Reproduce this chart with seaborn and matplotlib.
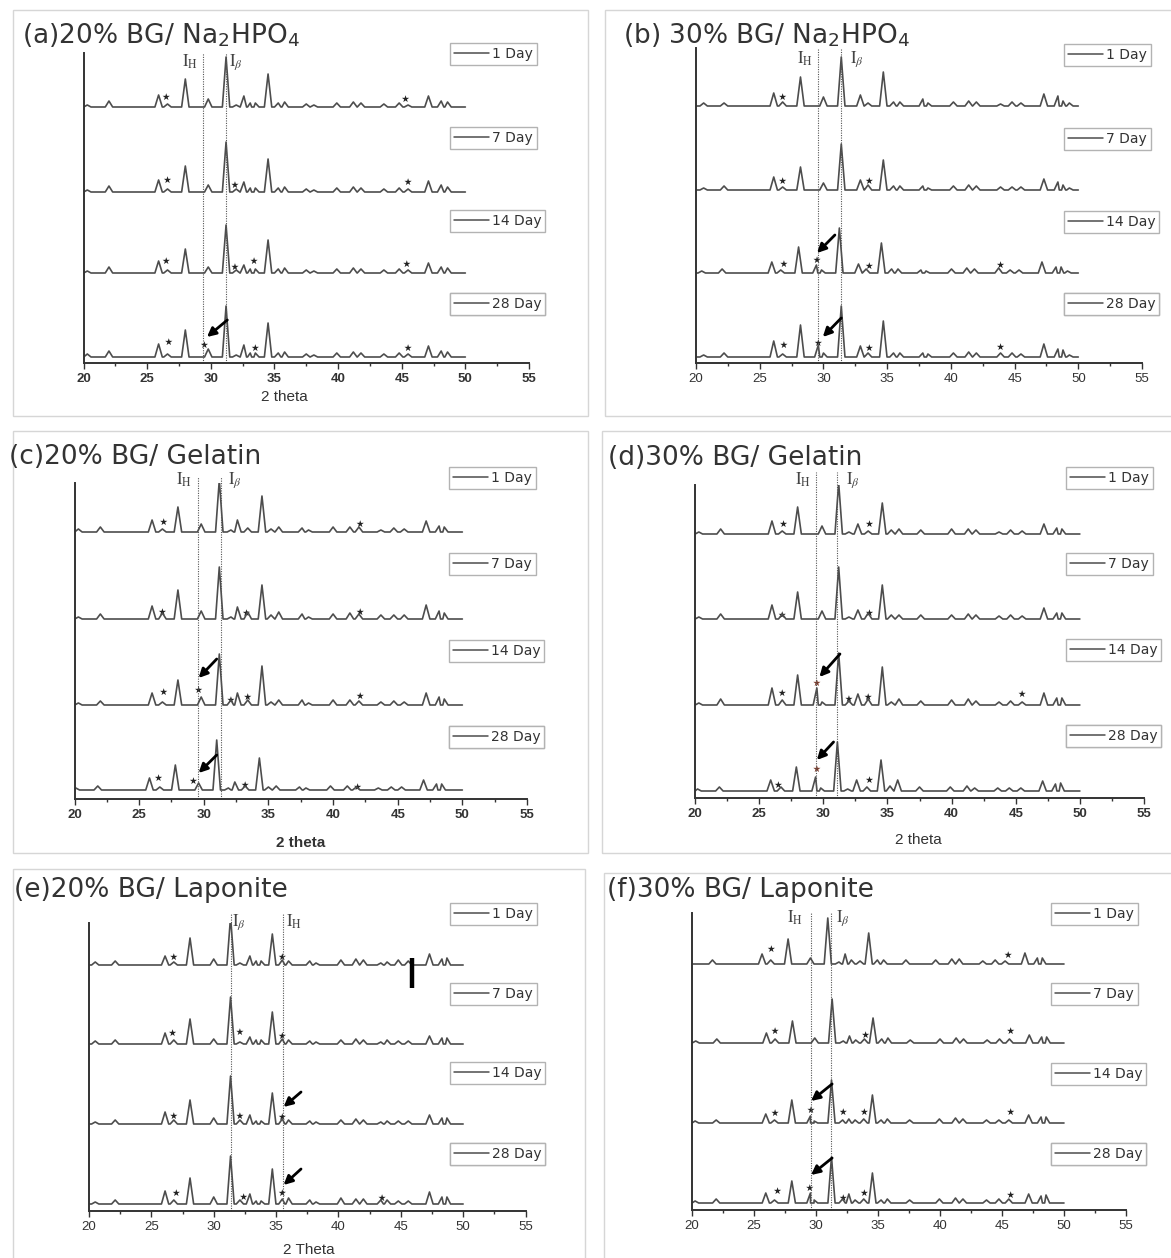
import matplotlib
matplotlib.use("Agg")
import matplotlib.pyplot as plt
import seaborn as sns
import pandas as pd
from matplotlib.lines import Line2D
from matplotlib.patches import Rectangle

DAYS = ["1 Day", "7 Day", "14 Day", "28 Day"]

# ---------------- (a) 20% BG / Na2HPO4 ----------------
A_POS = [20.3, 22.0, 25.9, 26.6, 28.0, 29.8, 31.2, 32.0, 32.6, 33.1, 33.5, 34.5, 35.3, 35.8,
         37.5, 38.1, 39.9, 41.2, 41.8, 43.6, 44.8, 45.5, 47.1, 48.1, 48.6]
A_1 = [2, 6, 12, 3, 28, 8, 50, 2, 11, 4, 4, 33, 4, 5, 3, 2, 4, 5, 4, 3, 4, 2, 11, 6, 5]
A_7 = [2, 6, 12, 3, 26, 7, 50, 3, 10, 4, 4, 33, 4, 5, 3, 2, 4, 5, 4, 3, 4, 3, 11, 7, 5]
A_14 = [2, 6, 12, 3, 24, 6, 48, 3, 8, 4, 4, 33, 4, 5, 3, 2, 4, 5, 4, 3, 4, 3, 10, 6, 5]
A_28 = [3, 6, 13, 3, 27, 8, 51, 2, 12, 4, 4, 34, 4, 5, 3, 2, 4, 5, 4, 3, 4, 3, 11, 6, 5]
A_SHIFT = [0, 0, 0, 0]
A_OFFSET = [250, 165, 84, 0]
A_REF = [29.4, 31.2]
A_REF_LABX = [28.4, 32.0]
A_REF_LAB = ["H", r"\beta"]
A_STAR_DAY = [0, 0, 1, 1, 1, 2, 2, 2, 2, 3, 3, 3, 3]
A_STAR_X = [26.5, 45.3, 26.6, 31.9, 45.5, 26.5, 31.9, 33.4, 45.4, 26.7, 29.5, 33.5, 45.5]
A_STAR_Y = [10, 8, 12, 7, 10, 12, 6, 12, 9, 15, 12, 9, 9]
A_ARR_DAY = [3]
A_ARR_X0 = [31.3]
A_ARR_Y0 = [37]
A_ARR_X1 = [29.7]
A_ARR_Y1 = [20]

# ---------------- (b) 30% BG / Na2HPO4 ----------------
B_POS = [20.6, 22.2, 26.1, 26.8, 28.2, 29.6, 30.0, 31.4, 32.9, 33.5, 34.7, 35.5, 36.0, 37.8,
         38.2, 40.2, 41.4, 42.0, 43.9, 44.8, 45.5, 47.3, 48.4, 48.8, 49.3]
B_1 = [3, 3, 13, 4, 29, 0, 9, 49, 11, 3, 34, 4, 4, 7, 3, 4, 5, 4, 2, 4, 3, 12, 10, 5, 3]
B_7 = [2, 4, 13, 3, 23, 0, 7, 46, 10, 5, 30, 4, 4, 4, 2, 4, 5, 4, 3, 3, 3, 11, 8, 5, 2]
B_14 = [2, 4, 11, 3, 26, 8, 3, 45, 9, 4, 30, 4, 4, 3, 2, 4, 5, 4, 5, 3, 3, 11, 6, 6, 2]
B_28 = [2, 4, 16, 3, 32, 12, 4, 51, 11, 4, 36, 4, 4, 4, 3, 4, 5, 4, 4, 4, 3, 13, 8, 7, 2]
B_SHIFT = [0, 0, -0.15, 0]
B_OFFSET = [251, 167, 84, 0]
B_REF = [29.6, 31.4]
B_REF_LABX = [28.55, 32.6]
B_REF_LAB = ["H", r"\beta"]
B_STAR_DAY = [0, 1, 1, 2, 2, 2, 2, 3, 3, 3, 3]
B_STAR_X = [26.8, 26.8, 33.6, 26.9, 29.5, 33.6, 43.9, 26.9, 29.6, 33.6, 43.9]
B_STAR_Y = [9, 9, 9, 9, 13, 7, 8, 12, 14, 9, 10]
B_ARR_DAY = [2, 3]
B_ARR_X0 = [30.9, 31.4]
B_ARR_Y0 = [38, 39]
B_ARR_X1 = [29.5, 29.95]
B_ARR_Y1 = [20, 20]

# ---------------- (c) 20% BG / Gelatin ----------------
C_POS = [20.3, 22.0, 26.0, 26.8, 28.0, 29.8, 31.2, 32.1, 32.6, 33.4, 34.5, 35.2, 35.8, 37.6,
         38.1, 40.0, 41.3, 42.0, 43.7, 44.7, 45.5, 47.2, 48.2, 48.6]
C_1 = [3, 5, 12, 3, 25, 8, 52, 2, 12, 4, 36, 3, 5, 4, 2, 5, 5, 5, 2, 4, 3, 11, 6, 5]
C_7 = [2, 5, 13, 6, 29, 8, 52, 2, 12, 7, 34, 4, 7, 5, 2, 5, 6, 5, 4, 4, 4, 14, 8, 6]
C_14 = [2, 4, 12, 3, 25, 8, 51, 5, 12, 5, 39, 3, 5, 5, 2, 5, 5, 4, 3, 4, 3, 12, 8, 6]
C_28 = [2, 4, 12, 3, 25, 7, 50, 2, 8, 4, 32, 3, 4, 3, 2, 4, 4, 3, 2, 3, 3, 10, 6, 6]
C_SHIFT = [0, 0, 0, -0.2]
C_OFFSET = [258, 171, 85, 0]
C_REF = [29.55, 31.3]
C_REF_LABX = [28.5, 32.4]
C_REF_LAB = ["H", r"\beta"]
C_STAR_DAY = [0, 0, 1, 1, 1, 2, 2, 2, 2, 2, 3, 3, 3, 3]
C_STAR_X = [26.9, 42.1, 26.8, 33.3, 42.1, 26.9, 29.6, 32.1, 33.4, 42.1, 26.5, 29.2, 33.2, 41.9]
C_STAR_Y = [10, 8, 7, 6, 7, 13, 15, 5, 8, 9, 12, 9, 5, 3]
C_ARR_DAY = [2, 3]
C_ARR_X0 = [31.0, 31.0]
C_ARR_Y0 = [46, 35]
C_ARR_X1 = [29.6, 29.6]
C_ARR_Y1 = [27, 17]

# ---------------- (d) 30% BG / Gelatin ----------------
D_POS = [20.3, 22.0, 26.0, 26.8, 28.0, 29.5, 29.9, 31.2, 32.0, 32.7, 33.5, 34.6, 35.3, 35.9,
         37.6, 40.0, 41.3, 41.9, 43.7, 44.6, 45.5, 47.2, 48.2, 48.6]
D_1 = [2, 5, 13, 3, 27, 0, 8, 51, 2, 10, 3, 31, 4, 5, 4, 5, 5, 4, 2, 4, 3, 10, 6, 5]
D_7 = [2, 5, 14, 5, 27, 0, 8, 52, 2, 9, 6, 34, 4, 4, 4, 4, 5, 4, 3, 4, 3, 11, 6, 6]
D_14 = [2, 6, 17, 5, 30, 17, 3, 52, 4, 11, 6, 38, 3, 6, 4, 5, 6, 4, 3, 4, 3, 12, 7, 7]
D_28 = [2, 4, 11, 4, 24, 14, 3, 49, 2, 11, 4, 31, 5, 11, 4, 4, 5, 3, 3, 3, 3, 10, 7, 8]
D_SHIFT = [0, 0, 0, -0.1]
D_OFFSET = [257, 172, 86, 0]
D_REF = [29.4, 31.1]
D_REF_LABX = [28.4, 32.3]
D_REF_LAB = ["H", r"\beta"]
D_STAR_DAY = [0, 0, 1, 1, 2, 2, 2, 2, 2, 3, 3, 3]
D_STAR_X = [26.9, 33.6, 26.8, 33.6, 26.8, 29.5, 32.0, 33.5, 45.5, 26.5, 29.5, 33.6]
D_STAR_Y = [10, 10, 4, 6, 12, 22, 6, 8, 11, 6, 22, 11]
D_STAR_TONE = [0, 0, 0, 0, 0, 1, 0, 0, 0, 0, 1, 0]
D_ARR_DAY = [2, 3]
D_ARR_X0 = [31.3, 30.8]
D_ARR_Y0 = [51, 49]
D_ARR_X1 = [29.7, 29.5]
D_ARR_Y1 = [28, 31]

# ---------------- (e) 20% BG / Laponite ----------------
E_POS = [20.5, 22.1, 26.1, 26.8, 28.1, 30.0, 31.35, 32.1, 32.9, 33.4, 33.8, 34.7, 35.5, 36.0,
         37.7, 38.2, 40.2, 41.4, 42.0, 43.4, 43.9, 44.8, 45.6, 47.3, 48.3, 48.7]
E_1 = [3, 4, 9, 3, 27, 6, 48, 2, 9, 4, 4, 31, 5, 4, 4, 2, 5, 6, 5, 2, 3, 5, 4, 11, 6, 7]
E_7 = [3, 4, 11, 4, 25, 5, 47, 2, 7, 4, 4, 32, 5, 4, 3, 2, 4, 5, 4, 2, 4, 3, 3, 8, 6, 6]
E_14 = [2, 4, 12, 4, 24, 6, 48, 4, 9, 3, 3, 31, 5, 4, 3, 2, 4, 5, 4, 2, 3, 3, 3, 9, 6, 6]
E_28 = [2, 4, 13, 4, 26, 7, 48, 4, 10, 3, 3, 35, 5, 6, 4, 2, 6, 5, 5, 4, 4, 3, 3, 12, 7, 7]
E_SHIFT = [0, 0, 0, 0]
E_OFFSET = [239, 160, 80, 0]
E_REF = [31.35, 35.55]
E_REF_LABX = [32.0, 36.4]
E_REF_LAB = [r"\beta", "H"]
E_STAR_DAY = [0, 0, 1, 1, 1, 2, 2, 2, 3, 3, 3, 3]
E_STAR_X = [26.8, 35.5, 26.7, 32.1, 35.5, 26.8, 32.1, 35.5, 27.0, 32.4, 35.5, 43.5]
E_STAR_Y = [8, 8, 11, 12, 8, 8, 8, 7, 11, 7, 11, 6]
E_ARR_DAY = [2, 3]
E_ARR_X0 = [37.0, 37.0]
E_ARR_Y0 = [32, 35]
E_ARR_X1 = [35.6, 35.6]
E_ARR_Y1 = [17, 19]
E_MARK_X = [45.9]
E_MARK_Y0 = [216]
E_MARK_Y1 = [246]

# ---------------- (f) 30% BG / Laponite ----------------
F_POS = [20.3, 22.0, 26.0, 26.7, 28.1, 29.6, 29.9, 31.3, 32.2, 32.7, 33.2, 33.9, 34.6, 35.3,
         35.8, 37.6, 40.0, 41.3, 41.9, 43.8, 44.8, 45.6, 47.2, 48.2, 48.6]
F_1 = [2, 4, 10, 4, 25, 0, 6, 46, 2, 10, 4, 3, 31, 4, 4, 4, 4, 5, 5, 3, 4, 3, 11, 6, 6]
F_7 = [2, 4, 10, 4, 22, 0, 5, 44, 2, 7, 3, 4, 25, 4, 5, 3, 4, 5, 4, 3, 4, 4, 8, 6, 6]
F_14 = [2, 3, 9, 3, 23, 7, 2, 43, 3, 4, 3, 4, 28, 3, 4, 3, 4, 5, 4, 3, 3, 3, 8, 6, 6]
F_28 = [2, 4, 10, 3, 22, 10, 3, 46, 4, 9, 3, 4, 30, 3, 4, 3, 4, 5, 4, 3, 4, 4, 9, 7, 8]
F_SHIFT = [-0.35, 0, -0.05, -0.05]
F_OFFSET = [239, 160, 80, 0]
F_REF = [29.6, 31.2]
F_REF_LABX = [28.3, 32.2]
F_REF_LAB = ["H", r"\beta"]
F_STAR_DAY = [0, 0, 1, 1, 1, 2, 2, 2, 2, 2, 3, 3, 3, 3, 3]
F_STAR_X = [26.4, 45.5, 26.7, 34.0, 45.7, 26.7, 29.6, 32.2, 33.9, 45.7, 26.9, 29.5, 32.2, 33.9, 45.7]
F_STAR_Y = [15, 9, 12, 8, 12, 10, 13, 11, 11, 11, 12, 15, 5, 10, 8]
F_ARR_DAY = [2, 3]
F_ARR_X0 = [31.3, 31.3]
F_ARR_Y0 = [39, 45]
F_ARR_X1 = [29.6, 29.6]
F_ARR_Y1 = [22, 28]

# ---------------- styling / layout ----------------
W_PX, H_PX = 1171, 1258
LINE_COLOR = "#4d4d4d"
HALF_BASE = 0.29

sns.set_style("white")
plt.rcParams["font.family"] = ["DejaVu Sans"]
plt.rcParams["mathtext.fontset"] = "stix"

fig = plt.figure(figsize=(W_PX / 100, H_PX / 100), dpi=100)


def fx(x):
    return x / W_PX


def fy(y):
    return 1 - y / H_PX


def build_df(pos, heights_list, shifts, offsets):
    rows = []
    for d, (hs, sh, off) in enumerate(zip(heights_list, shifts, offsets)):
        pts = [(20.0, 0.0)]
        for p, h in zip(pos, hs):
            if h <= 0:
                continue
            pts += [(p + sh - HALF_BASE, 0.0), (p + sh, float(h)), (p + sh + HALF_BASE, 0.0)]
        pts.append((50.0, 0.0))
        pts.sort(key=lambda t: t[0])
        for x, y in pts:
            rows.append({"theta": x, "intensity": y + off, "day": DAYS[d]})
    return pd.DataFrame(rows)


PANELS = [
    dict(rect=(83.5, 529, 53, 363), ylim=(-6, 304), pos=A_POS, h=[A_1, A_7, A_14, A_28],
         shift=A_SHIFT, off=A_OFFSET, ref=A_REF, reflx=A_REF_LABX, refl=A_REF_LAB, refy=0.971, reftop=1.0,
         sd=A_STAR_DAY, sx=A_STAR_X, sy=A_STAR_Y, st=None,
         ad=A_ARR_DAY, ax0=A_ARR_X0, ay0=A_ARR_Y0, ax1=A_ARR_X1, ay1=A_ARR_Y1,
         title="(a)20% BG/ Na$_\\mathregular{2}$HPO$_\\mathregular{4}$", tpos=(22, 35),
         leg=(450, [43, 127, 210, 293]), bold=True, xlabel=("2 theta", 284, 397, "normal")),
    dict(rect=(696, 1142, 48, 363), ylim=(-6, 309), pos=B_POS, h=[B_1, B_7, B_14, B_28],
         shift=B_SHIFT, off=B_OFFSET, ref=B_REF, reflx=B_REF_LABX, refl=B_REF_LAB, refy=0.965, reftop=1.0,
         sd=B_STAR_DAY, sx=B_STAR_X, sy=B_STAR_Y, st=None,
         ad=B_ARR_DAY, ax0=B_ARR_X0, ay0=B_ARR_Y0, ax1=B_ARR_X1, ay1=B_ARR_Y1,
         title="(b) 30% BG/ Na$_\\mathregular{2}$HPO$_\\mathregular{4}$", tpos=(623, 35),
         leg=(1064, [44, 128, 211, 293]), bold=False, xlabel=None),
    dict(rect=(74.5, 527, 483, 799), ylim=(-9, 307), pos=C_POS, h=[C_1, C_7, C_14, C_28],
         shift=C_SHIFT, off=C_OFFSET, ref=C_REF, reflx=C_REF_LABX, refl=C_REF_LAB, refy=1.01, reftop=1.02,
         sd=C_STAR_DAY, sx=C_STAR_X, sy=C_STAR_Y, st=None,
         ad=C_ARR_DAY, ax0=C_ARR_X0, ay0=C_ARR_Y0, ax1=C_ARR_X1, ay1=C_ARR_Y1,
         title="(c)20% BG/ Gelatin", tpos=(9, 457),
         leg=(449, [467, 553, 640, 726]), bold=True, xlabel=("2 theta", 301, 843, "bold")),
    dict(rect=(695, 1144, 485, 798), ylim=(-7, 306), pos=D_POS, h=[D_1, D_7, D_14, D_28],
         shift=D_SHIFT, off=D_OFFSET, ref=D_REF, reflx=D_REF_LABX, refl=D_REF_LAB, refy=1.016, reftop=1.04,
         sd=D_STAR_DAY, sx=D_STAR_X, sy=D_STAR_Y, st=D_STAR_TONE,
         ad=D_ARR_DAY, ax0=D_ARR_X0, ay0=D_ARR_Y0, ax1=D_ARR_X1, ay1=D_ARR_Y1,
         title="(d)30% BG/ Gelatin", tpos=(608, 458),
         leg=(1066, [467, 553, 639, 725]), bold=True, xlabel=("2 theta", 918, 840, "normal")),
    dict(rect=(89, 525.5, 923, 1211), ylim=(-7, 281), pos=E_POS, h=[E_1, E_7, E_14, E_28],
         shift=E_SHIFT, off=E_OFFSET, ref=E_REF, reflx=E_REF_LABX, refl=E_REF_LAB, refy=1.003, reftop=1.03,
         sd=E_STAR_DAY, sx=E_STAR_X, sy=E_STAR_Y, st=None,
         ad=E_ARR_DAY, ax0=E_ARR_X0, ay0=E_ARR_Y0, ax1=E_ARR_X1, ay1=E_ARR_Y1,
         title="(e)20% BG/ Laponite", tpos=(14, 890),
         leg=(450, [903, 983, 1062, 1143]), bold=False, xlabel=("2 Theta", 309, 1250, "normal")),
    dict(rect=(692, 1126, 913, 1210), ylim=(-7, 290), pos=F_POS, h=[F_1, F_7, F_14, F_28],
         shift=F_SHIFT, off=F_OFFSET, ref=F_REF, reflx=F_REF_LABX, refl=F_REF_LAB, refy=0.983, reftop=1.0,
         sd=F_STAR_DAY, sx=F_STAR_X, sy=F_STAR_Y, st=None,
         ad=F_ARR_DAY, ax0=F_ARR_X0, ay0=F_ARR_Y0, ax1=F_ARR_X1, ay1=F_ARR_Y1,
         title="(f)30% BG/ Laponite", tpos=(607, 890),
         leg=(1051, [903, 983, 1063, 1143]), bold=False, xlabel=None),
]

# light panel frames
FRAMES = [(13, 10, 588, 416), (605, 10, 1176, 416), (13, 431, 588, 853),
          (602, 431, 1176, 853), (13, 869, 585, 1262), (604, 873, 1176, 1262)]
for (x0, y0, x1, y1) in FRAMES:
    fig.add_artist(Rectangle((fx(x0), fy(y1)), fx(x1) - fx(x0), fy(y0) - fy(y1),
                             transform=fig.transFigure, fill=False, edgecolor="#d6d6d6", lw=1.0))

for P in PANELS:
    l, r, t, b = P["rect"]
    ax = fig.add_axes([fx(l), fy(b), fx(r) - fx(l), fy(t) - fy(b)])
    ax.patch.set_alpha(0)
    df = build_df(P["pos"], P["h"], P["shift"], P["off"])
    sns.lineplot(data=df, x="theta", y="intensity", units="day", estimator=None, sort=False,
                 color=LINE_COLOR, lw=1.2, ax=ax, legend=False)
    ax.set_xlim(20, 55)
    ax.set_ylim(*P["ylim"])
    ax.set_xlabel("")
    ax.set_ylabel("")
    ax.set_yticks([])
    ax.set_xticks([20, 25, 30, 35, 40, 45, 50, 55])
    ax.set_xticks([22.5, 27.5, 32.5, 37.5, 42.5, 47.5, 52.5], minor=True)
    ax.tick_params(axis="x", which="major", direction="out", length=4, width=1, color="#333333",
                   pad=3, labelsize=9.5, labelcolor="#333333", bottom=True)
    ax.tick_params(axis="x", which="minor", direction="out", length=2.5, width=1, color="#333333", bottom=True)
    for lab in ax.get_xticklabels():
        lab.set_family("Liberation Sans")
        lab.set_weight("bold" if P["bold"] else "normal")
    for s in ["top", "right"]:
        ax.spines[s].set_visible(False)
    for s in ["left", "bottom"]:
        ax.spines[s].set_color("#333333")
        ax.spines[s].set_linewidth(1.4)

    # reference lines and labels
    for xr in P["ref"]:
        ax.axvline(xr, ymin=0, ymax=P["reftop"], ls=(0, (1, 1.2)), color="#555555", lw=0.8, clip_on=False)
    for xl, lab in zip(P["reflx"], P["refl"]):
        ax.text(xl, P["refy"], r"$\mathrm{I}_{\mathrm{%s}}$" % lab if lab == "H" else r"$\mathrm{I}_{%s}$" % lab,
                transform=ax.get_xaxis_transform(), ha="center", va="center", fontsize=12, color="#444444")

    # stars
    sdf = pd.DataFrame({"x": P["sx"],
                        "y": [yy + P["off"][d] for yy, d in zip(P["sy"], P["sd"])],
                        "tone": P["st"] if P["st"] is not None else [0] * len(P["sx"])})
    sns.scatterplot(data=sdf, x="x", y="y", hue="tone", palette={0: "#222222", 1: "#7a3a2a"},
                    marker="*", s=30, linewidth=0, ax=ax, legend=False)
    ax.set_xlabel("")
    ax.set_ylabel("")

    # arrows
    for d, x0, y0, x1, y1 in zip(P["ad"], P["ax0"], P["ay0"], P["ax1"], P["ay1"]):
        off = P["off"][d]
        ax.annotate("", xy=(x1, y1 + off), xytext=(x0, y0 + off),
                    arrowprops=dict(arrowstyle="-|>", color="black", lw=2.0, mutation_scale=13,
                                    shrinkA=0, shrinkB=0))

    # legends (one per trace)
    lx, lys = P["leg"]
    for d, ly in enumerate(lys):
        handle = Line2D([], [], color=LINE_COLOR, lw=1.1)
        lg = ax.legend([handle], [DAYS[d]], loc="upper left", bbox_to_anchor=(fx(lx), fy(ly)),
                       bbox_transform=fig.transFigure, frameon=True, fancybox=False,
                       edgecolor="#b3b3b3", framealpha=1, fontsize=10, handlelength=2.5,
                       handletextpad=0.2, borderpad=0.3, borderaxespad=0)
        lg.get_frame().set_linewidth(1.0)
        for txt in lg.get_texts():
            txt.set_color("#333333")
        ax.add_artist(lg)

    # title and x label
    fig.text(fx(P["tpos"][0]), fy(P["tpos"][1]), P["title"], ha="left", va="center",
             fontsize=19, color="#333333")
    if P["xlabel"] is not None:
        txt, xx, yy, wt = P["xlabel"]
        fig.text(fx(xx), fy(yy), txt, ha="center", va="center", fontsize=11, fontweight=wt,
                 family="Liberation Sans", color="#333333")

# black marker bar in panel (e)
axe = fig.axes[4]
axe.vlines(E_MARK_X, E_MARK_Y0, E_MARK_Y1, color="black", lw=3.2)

fig.savefig("out.png", dpi=100)
